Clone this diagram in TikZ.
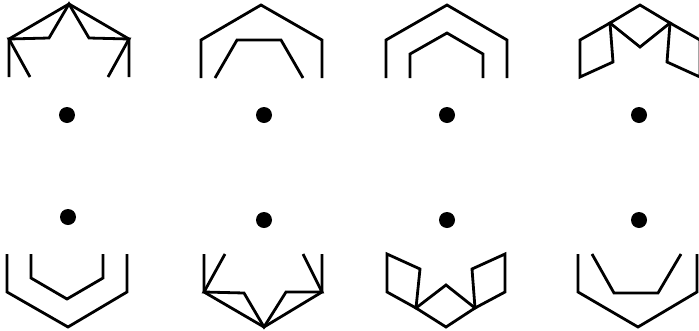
\documentclass[tikz,border=0pt]{standalone}
\usepackage{tikz}

\tikzset{
  shell/.style={line width=2.8pt, line join=miter, black},
  centre/.style={fill=black}
}

\begin{document}
\begin{tikzpicture}[x=1pt, y=-1pt]
        % frame (right figure is cut by it)
        \useasboundingbox (0,0) rectangle (699,330);
        \clip (0,0) rectangle (699,330);
        % --- top row ---
        % star hexagon
        \draw[shell] (9,77) -- (9,39) -- (69,4) -- (129,39) -- (129,77);
        \draw[shell] (30,77) -- (9,39) -- (49,38) -- (69,4) -- (89,38) -- (129,39) -- (108,77);
        % open hexagon, flat inner roof
        \draw[shell] (201,78) -- (201,40) -- (261,5) -- (322,40) -- (322,78);
        \draw[shell] (215,78) -- (237,40) -- (281,40) -- (303,78);
        % two nested hexagons
        \draw[shell] (386,78) -- (386,40) -- (447,5) -- (507,40) -- (507,78);
        \draw[shell] (410,78) -- (410,54) -- (447,33) -- (483,54) -- (483,78);
        % rhombi
        \draw[shell] (610,23) -- (640,5) -- (670,23) -- (640,47) -- cycle;
        \draw[shell] (610,23) -- (580,40) -- (580,77) -- (613,62) -- cycle;
        \draw[shell] (670,23) -- (700,40) -- (700,77) -- (667,62) -- cycle;
        % centre dots
        \foreach \x in {67,264,447,639} {
          \fill[centre] (\x,115) circle (8);
        }
        % --- bottom row ---
        % two nested hexagons
        \draw[shell] (7,254) -- (7,292) -- (68,327) -- (127,292) -- (127,254);
        \draw[shell] (31,254) -- (31,278) -- (67,299) -- (103,278) -- (103,254);
        % star hexagon
        \draw[shell] (204,254) -- (204,292) -- (264,327) -- (322,292) -- (322,254);
        \draw[shell] (225,254) -- (204,292) -- (244,293) -- (264,327) -- (286,292) -- (322,292) -- (303,254);
        % rhombi
        \draw[shell] (387,254) -- (387,292) -- (416,308) -- (420,269) -- cycle;
        \draw[shell] (416,308) -- (446,327) -- (475,308) -- (446,285) -- cycle;
        \draw[shell] (475,308) -- (505,292) -- (505,254) -- (472,269) -- cycle;
        % open hexagon, flat inner floor
        \draw[shell] (578,254) -- (578,292) -- (638,327) -- (697,292) -- (697,254);
        \draw[shell] (592,254) -- (614,293) -- (658,293) -- (681,254);
        % centre dots
        \fill[centre] (68,217) circle (8);
        \foreach \x in {264,447,639} {
          \fill[centre] (\x,220) circle (8);
        }
\end{tikzpicture}
\end{document}
